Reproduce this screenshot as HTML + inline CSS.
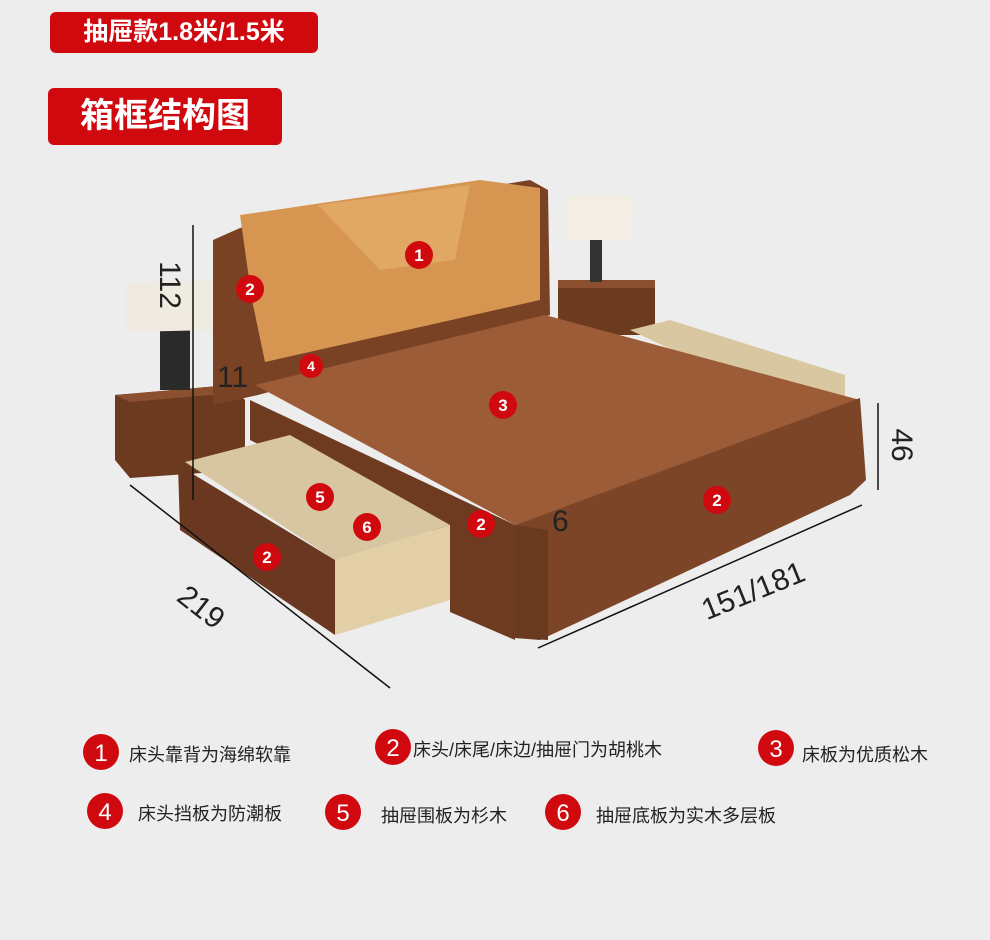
<!DOCTYPE html>
<html><head><meta charset="utf-8"><style>
body{margin:0;background:#ededed;}
.wrap{position:relative;width:990px;height:940px;overflow:hidden;font-family:"Liberation Sans","Noto Sans CJK SC",sans-serif;}
.tag{position:absolute;background:#d0090f;color:#fff;border-radius:6px;font-weight:bold;text-align:center;}
.lg{position:absolute;font-size:18px;color:#222;white-space:nowrap;}
</style></head><body><div class="wrap">
<div class="tag" style="left:50px;top:12px;width:268px;height:41px;line-height:41px;font-size:25px;">抽屉款1.8米/1.5米</div>
<div class="tag" style="left:48px;top:88px;width:234px;height:57px;line-height:57px;font-size:34px;">箱框结构图</div>
<svg width="990" height="940" style="position:absolute;left:0;top:0" font-family="Liberation Sans,sans-serif">
<!-- right nightstand + lamp -->
<rect x="558" y="285" width="97" height="50" fill="#6b3a1f"/>
<rect x="558" y="280" width="97" height="8" fill="#8a5030"/>
<rect x="590" y="238" width="12" height="44" fill="#333"/>
<polygon points="567,196 632,196 630,240 565,240" fill="#f2eee4"/>
<!-- left nightstand + lamp -->
<polygon points="115,395 230,385 245,400 245,470 130,478 115,460" fill="#6b3a1f"/>
<polygon points="115,395 230,385 245,392 130,402" fill="#8a5030"/>
<rect x="160" y="330" width="30" height="60" fill="#2a2a2a"/>
<polygon points="126,283 213,280 215,330 125,332" fill="#f0ebe0"/>
<!-- headboard -->
<polygon points="213,240 240,228 530,180 548,190 550,315 258,395 213,405" fill="#7a4225"/>
<polygon points="240,215 480,180 540,188 540,300 265,362 252,300" fill="#d69550"/>
<polygon points="318,205 470,185 455,260 380,270" fill="#e0a864"/>
<!-- right open drawer -->
<polygon points="630,330 670,320 845,375 845,400 800,410" fill="#d9c7a2"/>
<!-- platform -->
<polygon points="255,385 545,315 860,400 515,525" fill="#9c5c37"/>
<!-- right side board -->
<polygon points="515,525 860,398 866,480 850,495 540,640 515,638" fill="#7c4528"/>
<polygon points="515,525 548,530 548,640 515,638" fill="#6a3a20"/>
<!-- left side board -->
<polygon points="250,400 515,525 515,640 450,612 450,540 250,440" fill="#6e3b20"/>
<!-- left drawer -->
<polygon points="185,462 290,435 450,525 335,560" fill="#d8c6a2"/>
<polygon points="178,465 335,560 335,635 180,530" fill="#6a3820"/>
<polygon points="335,560 450,525 450,600 335,635" fill="#e2cfa6"/>
<!-- dimension lines -->
<g stroke="#111" stroke-width="1.5" fill="none">
<line x1="193" y1="225" x2="193" y2="500"/>
<line x1="878" y1="403" x2="878" y2="490"/>
<line x1="130" y1="485" x2="390" y2="688"/>
<line x1="538" y1="648" x2="862" y2="505"/>
</g>
<g font-size="30" fill="#222">
<text x="160" y="285" transform="rotate(90 160 285)" text-anchor="middle">112</text>
<text x="892" y="445" transform="rotate(90 892 445)" text-anchor="middle">46</text>
<text x="195" y="615" transform="rotate(38 195 615)" text-anchor="middle">219</text>
<text x="757" y="600" transform="rotate(-22 757 600)" text-anchor="middle">151/181</text>
<text x="217" y="387">11</text>
<text x="552" y="531">6</text>
</g>
<g font-size="17" font-weight="bold" fill="#fff" text-anchor="middle">
<g><circle cx="419" cy="255" r="14" fill="#d0090f"/><text x="419" y="261">1</text></g>
<g><circle cx="250" cy="289" r="14" fill="#d0090f"/><text x="250" y="295">2</text></g>
<g><circle cx="311" cy="366" r="12" fill="#d0090f"/><text x="311" y="371" font-size="14">4</text></g>
<g><circle cx="503" cy="405" r="14" fill="#d0090f"/><text x="503" y="411">3</text></g>
<g><circle cx="717" cy="500" r="14" fill="#d0090f"/><text x="717" y="506">2</text></g>
<g><circle cx="320" cy="497" r="14" fill="#d0090f"/><text x="320" y="503">5</text></g>
<g><circle cx="367" cy="527" r="14" fill="#d0090f"/><text x="367" y="533">6</text></g>
<g><circle cx="481" cy="524" r="14" fill="#d0090f"/><text x="481" y="530">2</text></g>
<g><circle cx="267" cy="557" r="14" fill="#d0090f"/><text x="267" y="563">2</text></g>
</g>
<g font-size="24" fill="#fff" text-anchor="middle">
<circle cx="101" cy="752" r="18" fill="#d0090f"/><text x="101" y="761">1</text>
<circle cx="393" cy="747" r="18" fill="#d0090f"/><text x="393" y="756">2</text>
<circle cx="776" cy="748" r="18" fill="#d0090f"/><text x="776" y="757">3</text>
<circle cx="105" cy="811" r="18" fill="#d0090f"/><text x="105" y="820">4</text>
<circle cx="343" cy="812" r="18" fill="#d0090f"/><text x="343" y="821">5</text>
<circle cx="563" cy="812" r="18" fill="#d0090f"/><text x="563" y="821">6</text>
</g>
</svg>
<div class="lg" style="left:129px;top:741px;">床头靠背为海绵软靠</div>
<div class="lg" style="left:413px;top:736px;">床头/床尾/床边/抽屉门为胡桃木</div>
<div class="lg" style="left:802px;top:741px;">床板为优质松木</div>
<div class="lg" style="left:138px;top:800px;">床头挡板为防潮板</div>
<div class="lg" style="left:381px;top:802px;">抽屉围板为杉木</div>
<div class="lg" style="left:596px;top:802px;">抽屉底板为实木多层板</div>
</div></body></html>
